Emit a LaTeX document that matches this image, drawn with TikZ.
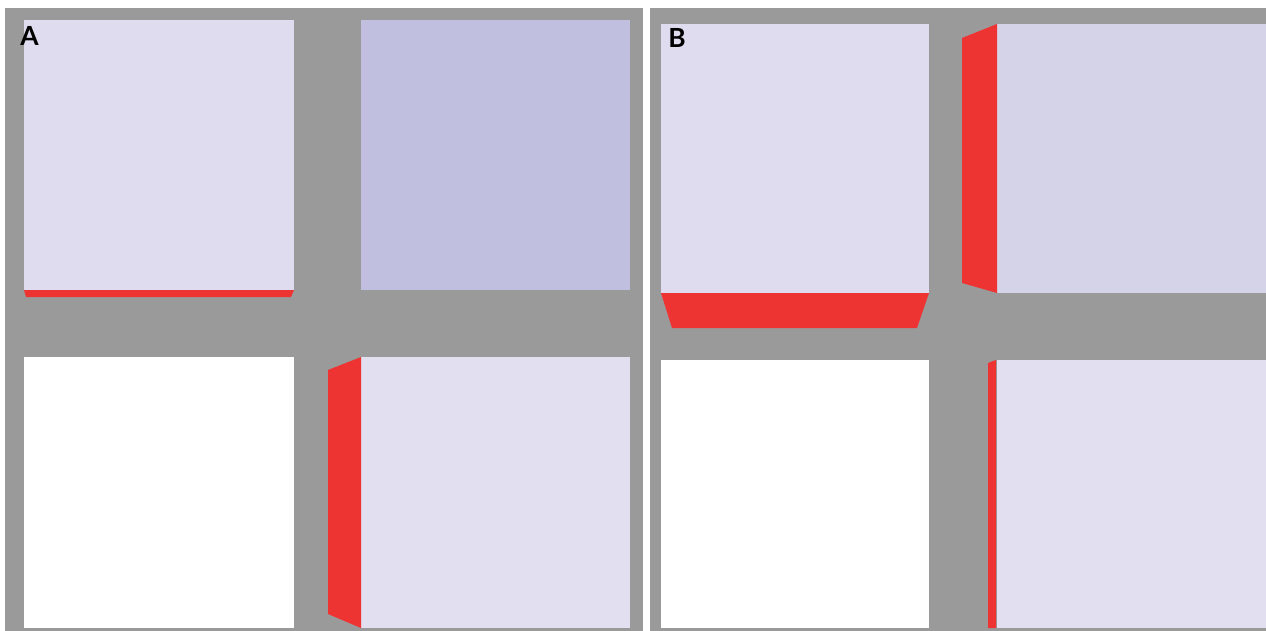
\documentclass[tikz,border=0pt]{standalone}
\usepackage{fontspec}
\setsansfont{Lato}
\usetikzlibrary{calc}
\pgfdeclarelayer{background}
\pgfdeclarelayer{foreground}
\pgfsetlayers{background,main,foreground}
\definecolor{bggray}{HTML}{9A9A9A}
\definecolor{lavlight}{HTML}{DEDCEE}
\definecolor{lavdark}{HTML}{C1BFE0}
\definecolor{lavgrey}{HTML}{D4D3E8}
\definecolor{redface}{HTML}{EE3333}

\begin{document}
\begin{tikzpicture}[x=0.02cm,y=-0.02cm,
  panellabel/.style={font=\sffamily\bfseries\fontsize{15}{16}\selectfont, inner sep=0pt, anchor=north west}]
\useasboundingbox (0,0) rectangle (1266,631);

\begin{pgfonlayer}{background}
\fill[white] (0,0) rectangle (1266,631);
\fill[bggray] (5,8) rectangle (643,631);
\fill[bggray] (650,8) rectangle (1266,631);
\end{pgfonlayer}

% panel A
\fill[lavlight] (24,20) rectangle (294,290);
\fill[redface] (24,290) -- (294,290) -- (291,297) -- (26,297) --cycle;
\fill[lavdark] (361,20) rectangle (630,290);
\fill[white] (24,357) rectangle (294,628);
\fill[lavlight!90!white] (361,357) rectangle (630,628);
\fill[redface] (328,370) -- (361,357) -- (361,628) -- (328,614) --cycle;

% panel B
\fill[lavlight] (661,24) rectangle (929,293);
\fill[redface] (661,293) -- (929,293) -- (917,328) -- (672,328) --cycle;
\fill[lavgrey] (997,24) rectangle (1266,293);
\fill[redface] (962,38) -- (997,24) -- (997,293) -- (962,283) --cycle;
\fill[white] (661,360) rectangle (929,628);
\fill[lavlight!90!white] (997,360) rectangle (1266,628);
\fill[redface] (988,363) -- (996,360) -- (996,628) -- (988,628) --cycle;

\begin{pgfonlayer}{foreground}
\node[panellabel] (labA) at (20,26) {A};
\node[panellabel] (labB) at (668,28) {B};
\end{pgfonlayer}
\end{tikzpicture}
\end{document}
